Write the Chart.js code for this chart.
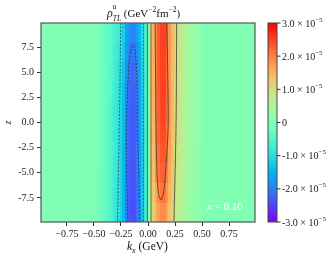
<!DOCTYPE html>
<html>
<head>
<meta charset="utf-8">
<script src="https://cdn.jsdelivr.net/npm/chart.js@4.4.1/dist/chart.umd.min.js"></script>
<style>
  html, body { margin: 0; padding: 0; background: #fff; }
</style>
</head>
<body>
<canvas id="myChart" width="335" height="258"></canvas>
<script>
// kx column centres (GeV)
const kxCols = [-0.5, -0.475, -0.45, -0.425, -0.4, -0.375, -0.35, -0.325, -0.3, -0.275,
  -0.25, -0.225, -0.2, -0.175, -0.15, -0.125, -0.1, -0.075, -0.05, -0.025, 0,
  0.025, 0.05, 0.075, 0.1, 0.125, 0.15, 0.175, 0.2, 0.225, 0.25,
  0.275, 0.3, 0.325, 0.35, 0.375, 0.4, 0.425, 0.45, 0.475, 0.5];
// z row centres
const zRows = [9, 7, 5, 3, 1, -1, -3, -5, -7, -9];
// rho values, units of 1e-6 GeV^-2 fm^-2, one row per z
const rho = [
  [-0.4,-0.8,-1.3,-1.7,-2.5,-3.4,-4.2,-5.5,-6.7,-7.8,-9.2,-11.8,-16.4,-18.1,-19.3,-19.3,-16.8,-13.9,-10.5,-5.9, 0,
   10,15.5,20,23,25,25,22,18,14.5,11.5,9.5,8,6.5,5.5,4.5,3.5,2.5,2,1.5,1],
  [-0.5,-0.9,-1.4,-1.8,-2.7,-3.6,-4.5,-5.9,-7.2,-8.4,-9.9,-12.6,-17.6,-19.4,-20.7,-20.7,-18,-14.9,-11.3,-6.3, 0,
   10,15.5,20,23,25,25,22,18,14.5,11.5,9.5,8,6.5,5.5,4.5,3.5,2.5,2,1.5,1],
  [-0.5,-1,-1.4,-1.9,-2.9,-3.8,-4.8,-6.2,-7.6,-8.8,-10.5,-13.3,-18.5,-20.4,-21.9,-21.9,-19,-15.7,-11.9,-6.7, 0,
   10,15.5,20,23,25,25,22,18,14.5,11.5,9.5,8,6.5,5.5,4.5,3.5,2.5,2,1.5,1],
  [-0.5,-1,-1.5,-2,-2.9,-3.9,-4.9,-6.4,-7.8,-9.1,-10.8,-13.7,-19.1,-21.1,-22.5,-22.5,-19.6,-16.2,-12.3,-6.9, 0,
   10,15.5,20,23,25,25,22,18,14.5,11.5,9.5,8,6.5,5.5,4.5,3.5,2.5,2,1.5,1],
  [-0.5,-1,-1.5,-2,-3,-4,-5,-6.5,-8,-9.3,-11,-14,-19.5,-21.5,-23,-23,-20,-16.5,-12.5,-7, 0,
   9.9,15.3,19.8,22.8,24.8,24.8,21.8,17.8,14.4,11.4,9.4,7.9,6.4,5.4,4.5,3.5,2.5,2,1.5,1],
  [-0.5,-1,-1.5,-2,-3,-4,-5.1,-6.6,-8.1,-9.4,-11.1,-14.1,-19.7,-21.7,-23.2,-23.2,-20.2,-16.7,-12.6,-7.1, 0,
   9.7,15,19.4,22.3,24.3,24.3,21.3,17.5,14.1,11.2,9.2,7.8,6.3,5.3,4.4,3.4,2.4,1.9,1.5,1],
  [-0.5,-1,-1.5,-2,-3.1,-4.1,-5.1,-6.6,-8.2,-9.5,-11.2,-14.3,-19.9,-21.9,-23.5,-23.5,-20.4,-16.8,-12.8,-7.1, 0,
   9.4,14.6,18.8,21.6,23.5,23.5,20.7,16.9,13.6,10.8,8.9,7.5,6.1,5.2,4.2,3.3,2.4,1.9,1.4,0.9],
  [-0.5,-1,-1.5,-2.1,-3.1,-4.1,-5.2,-6.7,-8.2,-9.6,-11.3,-14.4,-20.1,-22.1,-23.7,-23.7,-20.6,-17,-12.9,-7.2, 0,
   9,14,18,20.7,22.5,22.5,19.8,16.2,13.1,10.4,8.6,7.2,5.9,5,4.1,3.2,2.3,1.8,1.4,0.9],
  [-0.5,-1,-1.6,-2.1,-3.1,-4.2,-5.2,-6.8,-8.3,-9.7,-11.4,-14.6,-20.3,-22.4,-23.9,-23.9,-20.8,-17.2,-13,-7.3, 0,
   8.3,12.9,16.6,19.1,20.8,20.8,18.3,14.9,12,9.5,7.9,6.6,5.4,4.6,3.7,2.9,2.1,1.7,1.2,0.8],
  [-0.5,-1.1,-1.6,-2.1,-3.2,-4.2,-5.3,-6.8,-8.4,-9.8,-11.6,-14.7,-20.5,-22.6,-24.2,-24.2,-21,-17.3,-13.1,-7.4, 0,
   7.5,11.6,15,17.3,18.8,18.8,16.5,13.5,10.9,8.6,7.1,6,4.9,4.1,3.4,2.6,1.9,1.5,1.1,0.8]
];
const UNIT = 1e-6;

// contour paths [kx, z]
const contoursNeg = [
  [[-0.252, 9.9], [-0.265, 0], [-0.282, -9.9]],
  [[-0.04, 9.9], [-0.04, -9.9]],
  [[-0.188, -9.9], [-0.197, -3], [-0.197, 0], [-0.19, 3], [-0.18, 5], [-0.173, 6.2], [-0.155, 7.3],
   [-0.136, 7.7], [-0.12, 7.3], [-0.111, 6.2], [-0.105, 5], [-0.1, 3], [-0.1, 0], [-0.09, -3], [-0.074, -9.9]]
];
const contoursPos = [
  [[-0.005, 9.9], [-0.005, -9.9]],
  [[0.028, 9.9], [0.028, -9.9]],
  [[0.065, 9.9], [0.07, 5], [0.074, 0], [0.078, -3], [0.086, -5.7], [0.1, -7.2], [0.12, -7.7],
   [0.14, -7.2], [0.157, -5.7], [0.175, -3], [0.188, 0], [0.183, 5], [0.173, 9.9]],
  [[0.265, 9.9], [0.26, 0], [0.24, -9.9]]
];

// tick labels
const xTicks = [-0.75, -0.5, -0.25, 0, 0.25, 0.5, 0.75];
const xTickLabels = ['\u22120.75', '\u22120.50', '\u22120.25', '0.00', '0.25', '0.50', '0.75'];
const yTicks = [7.5, 5, 2.5, 0, -2.5, -5, -7.5];
const yTickLabels = ['7.5', '5.0', '2.5', '0.0', '-2.5', '-5.0', '-7.5'];
const cbTicks = [3, 2, 1, 0, -1, -2, -3]; // x 1e-5
const cbTickLabels = ['3.0 \u00d7 10', '2.0 \u00d7 10', '1.0 \u00d7 10', '0', '-1.0 \u00d7 10', '-2.0 \u00d7 10', '-3.0 \u00d7 10'];

const VMIN = -3e-5, VMAX = 3e-5;
const SERIF = '"Liberation Serif", "DejaVu Serif", serif';

// matplotlib "rainbow"
function rainbow(v) {
    let t = (v - VMIN) / (VMAX - VMIN);
    t = Math.max(0, Math.min(1, t));
    const r = Math.min(1, Math.abs(2 * t - 0.5));
    const g = Math.sin(Math.PI * t);
    const b = Math.cos(Math.PI * t / 2);
    return `rgb(${Math.round(r * 255)},${Math.round(g * 255)},${Math.round(b * 255)})`;
}

// draw pieces of text: [text, size, style, dy]
function drawRich(ctx, x, y, parts, color) {
    ctx.fillStyle = color;
    ctx.textBaseline = 'alphabetic';
    ctx.textAlign = 'left';
    parts.forEach((p) => {
        if (p.stack) {
            let w = 0;
            p.stack.forEach((s) => {
                ctx.font = `${s[2] || ''} ${s[1]}px ${SERIF}`;
                ctx.fillText(s[0], x, y + s[3]);
                w = Math.max(w, ctx.measureText(s[0]).width);
            });
            x += w;
        } else {
            ctx.font = `${p[2] || ''} ${p[1]}px ${SERIF}`;
            ctx.fillText(p[0], x, y + (p[3] || 0));
            x += ctx.measureText(p[0]).width;
        }
    });
    return x;
}

const heatmap = {
    id: 'heatmap',
    beforeDatasetsDraw(chart) {
        const { ctx, chartArea: a, scales: { x, y } } = chart;
        ctx.save();
        ctx.beginPath();
        ctx.rect(a.left, a.top, a.width, a.height);
        ctx.clip();
        ctx.fillStyle = rainbow(0);
        ctx.fillRect(a.left, a.top, a.width, a.height);
        const dx = 0.0125;
        zRows.forEach((z, j) => {
            const yTop = Math.round(y.getPixelForValue(j === 0 ? 10 : z + 1));
            const yBot = Math.round(y.getPixelForValue(j === zRows.length - 1 ? -10 : z - 1));
            kxCols.forEach((k, i) => {
                const x0 = Math.round(x.getPixelForValue(k - dx));
                const x1 = Math.round(x.getPixelForValue(k + dx));
                ctx.fillStyle = rainbow(rho[j][i] * UNIT);
                ctx.fillRect(x0, yTop, x1 - x0, yBot - yTop);
            });
        });
        ctx.restore();
    },
    afterDraw(chart) {
        const { ctx, chartArea: a, scales: { cb } } = chart;
        ctx.save();
        // frame
        ctx.strokeStyle = '#555';
        ctx.lineWidth = 1.2;
        ctx.strokeRect(a.left, a.top, a.width, a.height);

        // colorbar
        const cx0 = a.right + 13, cx1 = a.right + 22;
        const grad = ctx.createLinearGradient(0, cb.bottom, 0, cb.top);
        for (let i = 0; i <= 24; i++) {
            grad.addColorStop(i / 24, rainbow(VMIN + (VMAX - VMIN) * i / 24));
        }
        ctx.fillStyle = grad;
        ctx.fillRect(cx0, cb.top, cx1 - cx0, cb.bottom - cb.top);
        ctx.strokeStyle = '#444';
        ctx.lineWidth = 1;
        ctx.strokeRect(cx0, cb.top, cx1 - cx0, cb.bottom - cb.top);
        cbTicks.forEach((v, i) => {
            const py = cb.getPixelForValue(v * 1e-5);
            ctx.beginPath();
            ctx.moveTo(cx1, py);
            ctx.lineTo(cx1 + 3.5, py);
            ctx.strokeStyle = '#333';
            ctx.stroke();
            const parts = [[cbTickLabels[i], 10, '', 0]];
            if (v !== 0) parts.push(['\u22125', 7, '', -5]);
            drawRich(ctx, cx1 + 5, py + 3.5, parts, '#222');
        });

        // title
        drawRich(ctx, 107, 17, [
            ['\u03c1', 12, 'italic', 0],
            { stack: [['u', 7.5, 'italic', -8], ['TL', 7.5, 'italic', 4]] },
            [' (GeV', 11, '', 0],
            ['\u22122', 7.5, '', -5],
            ['fm', 11, '', 0],
            ['\u22122', 7.5, '', -5],
            [')', 11, '', 0]
        ], '#111');

        // x axis title
        drawRich(ctx, 127, 250, [
            ['k', 11.5, 'italic', 0],
            ['x', 8, 'italic', 2.5],
            [' (GeV)', 11.5, '', 0]
        ], '#111');

        // annotation
        drawRich(ctx, 207, 210, [
            ['x', 11, 'italic', 0],
            [' = 0.10', 11, '', 0]
        ], '#ffffff');
        ctx.restore();
    }
};

function createHeatmapChart() {
    const ctx = document.getElementById('myChart').getContext('2d');
    const lineSet = (pts, dashed) => ({
        data: pts.map(([kx, z]) => ({ x: kx, y: z })),
        showLine: true,
        pointRadius: 0,
        borderColor: 'rgba(40, 40, 40, 0.85)',
        borderWidth: 0.8,
        borderDash: dashed ? [2, 1.5] : [],
        tension: 0.3,
        fill: false,
    });
    const tickFont = { family: SERIF, size: 10 };

    new Chart(ctx, {
        type: 'scatter',
        data: {
            datasets: [
                ...contoursNeg.map((c) => lineSet(c, true)),
                ...contoursPos.map((c) => lineSet(c, false)),
            ],
        },
        options: {
            responsive: false,
            animation: false,
            layout: { padding: { top: 23, left: 0, right: 0, bottom: 0 } },
            plugins: {
                legend: { display: false },
                tooltip: { enabled: false },
            },
            scales: {
                x: {
                    type: 'linear',
                    min: -0.99,
                    max: 0.99,
                    afterBuildTicks: (s) => { s.ticks = xTicks.map((v) => ({ value: v })); },
                    afterFit: (s) => { s.height = 36; },
                    grid: { drawOnChartArea: false, tickLength: 4, color: '#333' },
                    border: { display: false },
                    ticks: {
                        font: tickFont, color: '#222', padding: 2, maxRotation: 0, autoSkip: false,
                        callback: (v) => xTickLabels[xTicks.indexOf(v)],
                    },
                },
                y: {
                    type: 'linear',
                    min: -9.9,
                    max: 9.9,
                    afterBuildTicks: (s) => { s.ticks = yTicks.map((v) => ({ value: v })); },
                    afterFit: (s) => { s.width = 41; },
                    grid: { drawOnChartArea: false, tickLength: 4, color: '#333' },
                    border: { display: false },
                    title: {
                        display: true, text: 'z', color: '#222',
                        font: { family: SERIF, size: 10, style: 'italic' },
                        padding: { top: 2, bottom: 0 },
                    },
                    ticks: {
                        font: tickFont, color: '#222', padding: 3, autoSkip: false,
                        callback: (v) => yTickLabels[yTicks.indexOf(v)],
                    },
                },
                cb: {
                    axis: 'y',
                    type: 'linear',
                    position: 'right',
                    min: VMIN,
                    max: VMAX,
                    afterFit: (s) => { s.width = 80; },
                    grid: { display: false, drawTicks: false },
                    border: { display: false },
                    ticks: { display: false },
                },
            },
        },
        plugins: [heatmap],
    });
}

createHeatmapChart();
</script>
</body>
</html>
